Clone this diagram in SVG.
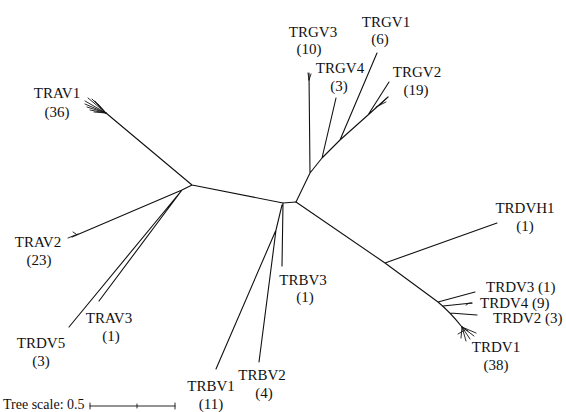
<svg xmlns="http://www.w3.org/2000/svg" width="566" height="412" viewBox="0 0 566 412">
<style>
text{font-family:'Liberation Serif','Times New Roman',serif;font-size:15px;fill:#111;text-anchor:middle}
.s{text-anchor:start}
.sc{font-size:14px}
.e{fill:none;stroke:#111;stroke-width:1.1;stroke-linecap:round;stroke-linejoin:round}
.f{fill:none;stroke:#111;stroke-width:0.9;stroke-linecap:round}
</style>
<rect width="566" height="412" fill="#fff"/>
<g id="connectors">
<path class="e" d="M106,113 L192,185 L283,203 L296,202 M192,185 L182,190 M182,190 L72,237 M182,190 L99,301 M182,190 L69,327"/>
<path class="e" d="M283,203 L282,266 M282,205 L276,230 L216,369 M276,230 L259,362"/>
<path class="e" d="M296,202 L310,173 L309,73 M310,173 L322,158 L336,98 M322,158 L340,140 L377,53 M340,140 L368,115 L389,82 M368,115 L388,97"/>
<path class="e" d="M296,202 L385,263 L497,223 M385,263 L438,302 L475,292 M438,302 Q450,312 462,327 M443,306 L472,303 M450,313 L477,315"/>
<path class="f" d="M106,113 L85,101 M106,113 L88,98 M106,113 L92,99 M106,113 L95,101 M106,113 L85,104 M106,113 L87,107 M106,113 L90,110 M106,113 L94,112 M106,113 L98,104"/>
<path class="f" d="M78,234 L68,238 M76,234 L73,232"/>
<path class="f" d="M309,80 L308,73 M309,80 L311,74"/>
<path class="f" d="M376,107 L386,102 M380,105 L388,97"/>
<path class="f" d="M462,327 L476,333 M462,327 L474,336 M462,327 L470,339 M462,327 L466,341 M462,327 L461,338 M462,327 L468,331 M465,330 L458,334 M472,303 Q469,302 466,305"/>
</g>
<g id="TRAV1"><text x="57" y="98">TRAV1</text><text x="57" y="117">(36)</text></g>
<g id="TRAV2"><text x="38" y="247">TRAV2</text><text x="39" y="265">(23)</text></g>
<g id="TRDV5"><text x="41" y="348">TRDV5</text><text x="41" y="366">(3)</text></g>
<g id="TRAV3"><text x="109" y="323">TRAV3</text><text x="111" y="341">(1)</text></g>
<g id="TRBV1"><text x="211" y="391">TRBV1</text><text x="211" y="409">(11)</text></g>
<g id="TRBV2"><text x="262" y="380">TRBV2</text><text x="264" y="398">(4)</text></g>
<g id="TRBV3"><text x="303" y="285">TRBV3</text><text x="305" y="302">(1)</text></g>
<g id="TRGV3"><text x="313" y="37">TRGV3</text><text x="309" y="54">(10)</text></g>
<g id="TRGV1"><text x="386" y="27">TRGV1</text><text x="380" y="44">(6)</text></g>
<g id="TRGV4"><text x="340" y="73">TRGV4</text><text x="339" y="91">(3)</text></g>
<g id="TRGV2"><text x="417" y="77">TRGV2</text><text x="416" y="95">(19)</text></g>
<g id="TRDVH1"><text x="525" y="213">TRDVH1</text><text x="525" y="231">(1)</text></g>
<g id="TRDV3"><text class="s" x="486" y="292">TRDV3 (1)</text></g>
<g id="TRDV4"><text class="s" x="480" y="308">TRDV4 (9)</text></g>
<g id="TRDV2"><text class="s" x="493" y="323">TRDV2 (3)</text></g>
<g id="TRDV1"><text x="496" y="352">TRDV1</text><text x="496" y="370">(38)</text></g>
<g id="scale">
<text class="s sc" x="3" y="409">Tree scale: 0.5</text>
<path class="f" d="M90,406 L175,406 M90,403 L90,409 M137,404 L137,408 M175,403 L175,409"/>
</g>
</svg>
